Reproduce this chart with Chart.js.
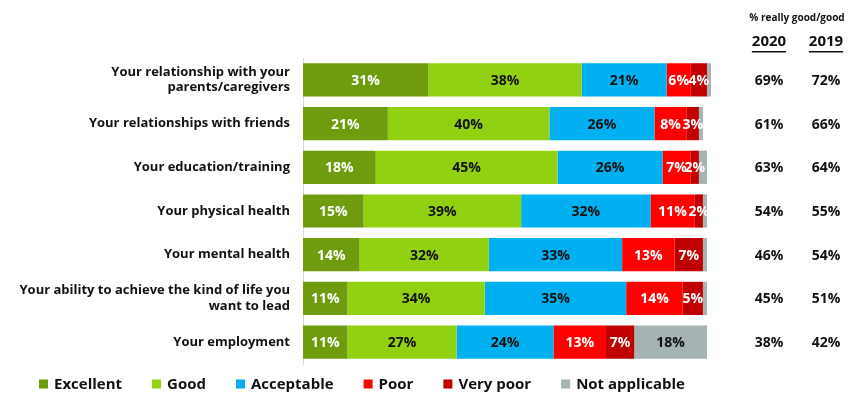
<!DOCTYPE html>
<html>
<head>
<meta charset="utf-8">
<script src="https://cdn.jsdelivr.net/npm/chart.js@4"></script>
<style>
  html, body { margin: 0; padding: 0; background: #fff; }
</style>
</head>
<body>
<canvas id="chart" width="863" height="393"></canvas>
<script>
const categories = [
  ['Your relationship with your', 'parents/caregivers'],
  'Your relationships with friends',
  'Your education/training',
  'Your physical health',
  'Your mental health',
  ['Your ability to achieve the kind of life you', 'want to lead'],
  'Your employment'
]
const excellent = [31, 21, 18, 15, 14, 11, 11]
const good = [38, 40, 45, 39, 32, 34, 27]
const acceptable = [21, 26, 26, 32, 33, 35, 24]
const poor = [6, 8, 7, 11, 13, 14, 13]
const veryPoor = [4, 3, 2, 2, 7, 5, 7]
const notApplicable = [1, 1, 2, 1, 1, 1, 18]

// % really good/good, side columns
const goodShare2020 = [69, 61, 63, 54, 46, 45, 38]
const goodShare2019 = [72, 66, 64, 55, 54, 51, 42]

const FONT = '"Open Sans", Lato, sans-serif'

// percentage text inside each segment
const segmentLabels = {
  id: 'segmentLabels',
  afterDatasetsDraw(chart) {
    const ctx = chart.ctx
    ctx.save()
    ctx.font = 'bold 14px ' + FONT
    ctx.textAlign = 'center'
    ctx.textBaseline = 'middle'
    chart.data.datasets.forEach((ds, di) => {
      const meta = chart.getDatasetMeta(di)
      meta.data.forEach((bar, i) => {
        const v = ds.data[i]
        if (v < 2) return
        if (ds.label === 'Not applicable' && v < 5) return
        ctx.fillStyle = ds.textColor
        ctx.fillText(v + '%', (bar.x + bar.base) / 2, bar.y + 1)
      })
    })
    ctx.restore()
  }
}

// the 2020 / 2019 columns on the right
const sideColumns = {
  id: 'sideColumns',
  afterDraw(chart) {
    const ctx = chart.ctx
    const y = chart.scales.y
    const col1 = 769
    const col2 = 826
    ctx.save()
    ctx.fillStyle = '#111'
    ctx.textAlign = 'center'
    ctx.textBaseline = 'middle'
    ctx.font = 'bold 10px ' + FONT
    ctx.fillText('% really good/good', 797, 18)
    ctx.font = 'bold 15px ' + FONT
    ;[[col1, '2020'], [col2, '2019']].forEach(([x, t]) => {
      ctx.fillText(t, x, 42)
      const w = ctx.measureText(t).width
      ctx.fillRect(x - w / 2, 51, w, 1.5)
    })
    ctx.font = 'bold 14px ' + FONT
    categories.forEach((c, i) => {
      const py = y.getPixelForValue(i) + 1
      ctx.fillText(goodShare2020[i] + '%', col1, py)
      ctx.fillText(goodShare2019[i] + '%', col2, py)
    })
    ctx.restore()
  }
}

// legend row along the bottom, small square markers
const bottomLegend = {
  id: 'bottomLegend',
  afterDraw(chart) {
    const ctx = chart.ctx
    const box = 9
    const gap = 30
    const cy = 384
    let x = 39
    ctx.save()
    ctx.font = 'bold 15px ' + FONT
    ctx.textBaseline = 'middle'
    ctx.textAlign = 'left'
    chart.data.datasets.forEach(ds => {
      ctx.fillStyle = ds.backgroundColor
      ctx.fillRect(x, cy - box / 2, box, box)
      ctx.fillStyle = '#111'
      ctx.fillText(ds.label, x + box + 6, cy + 1)
      x += box + 6 + ctx.measureText(ds.label).width + gap
    })
    ctx.restore()
  }
}

new Chart(document.getElementById('chart'), {
  type: 'bar',
  data: {
    labels: categories,
    datasets: [
      { label: 'Excellent', data: excellent, backgroundColor: '#6f9c0e', textColor: '#fff' },
      { label: 'Good', data: good, backgroundColor: '#92d012', textColor: '#111' },
      { label: 'Acceptable', data: acceptable, backgroundColor: '#00b0f0', textColor: '#111' },
      { label: 'Poor', data: poor, backgroundColor: '#ff0000', textColor: '#fff' },
      { label: 'Very poor', data: veryPoor, backgroundColor: '#c00000', textColor: '#fff' },
      { label: 'Not applicable', data: notApplicable, backgroundColor: '#a5b4b2', textColor: '#111' }
    ]
  },
  options: {
    indexAxis: 'y',
    responsive: false,
    animation: false,
    datasets: {
      bar: { barPercentage: 0.76, categoryPercentage: 1 }
    },
    layout: {
      padding: { top: 58, right: 152, left: 0, bottom: 29 }
    },
    scales: {
      x: {
        stacked: true,
        display: false,
        min: 0,
        max: 101
      },
      y: {
        stacked: true,
        grid: { display: false, drawTicks: false },
        border: { display: true, color: '#d9d9d9', width: 1 },
        ticks: {
          color: '#111',
          font: { family: FONT, size: 13, weight: 'bold' },
          padding: 13
        },
        afterFit(scale) {
          scale.width = 303
        }
      }
    },
    plugins: {
      tooltip: { enabled: false },
      legend: { display: false }
    }
  },
  plugins: [segmentLabels, sideColumns, bottomLegend]
})
</script>
</body>
</html>
